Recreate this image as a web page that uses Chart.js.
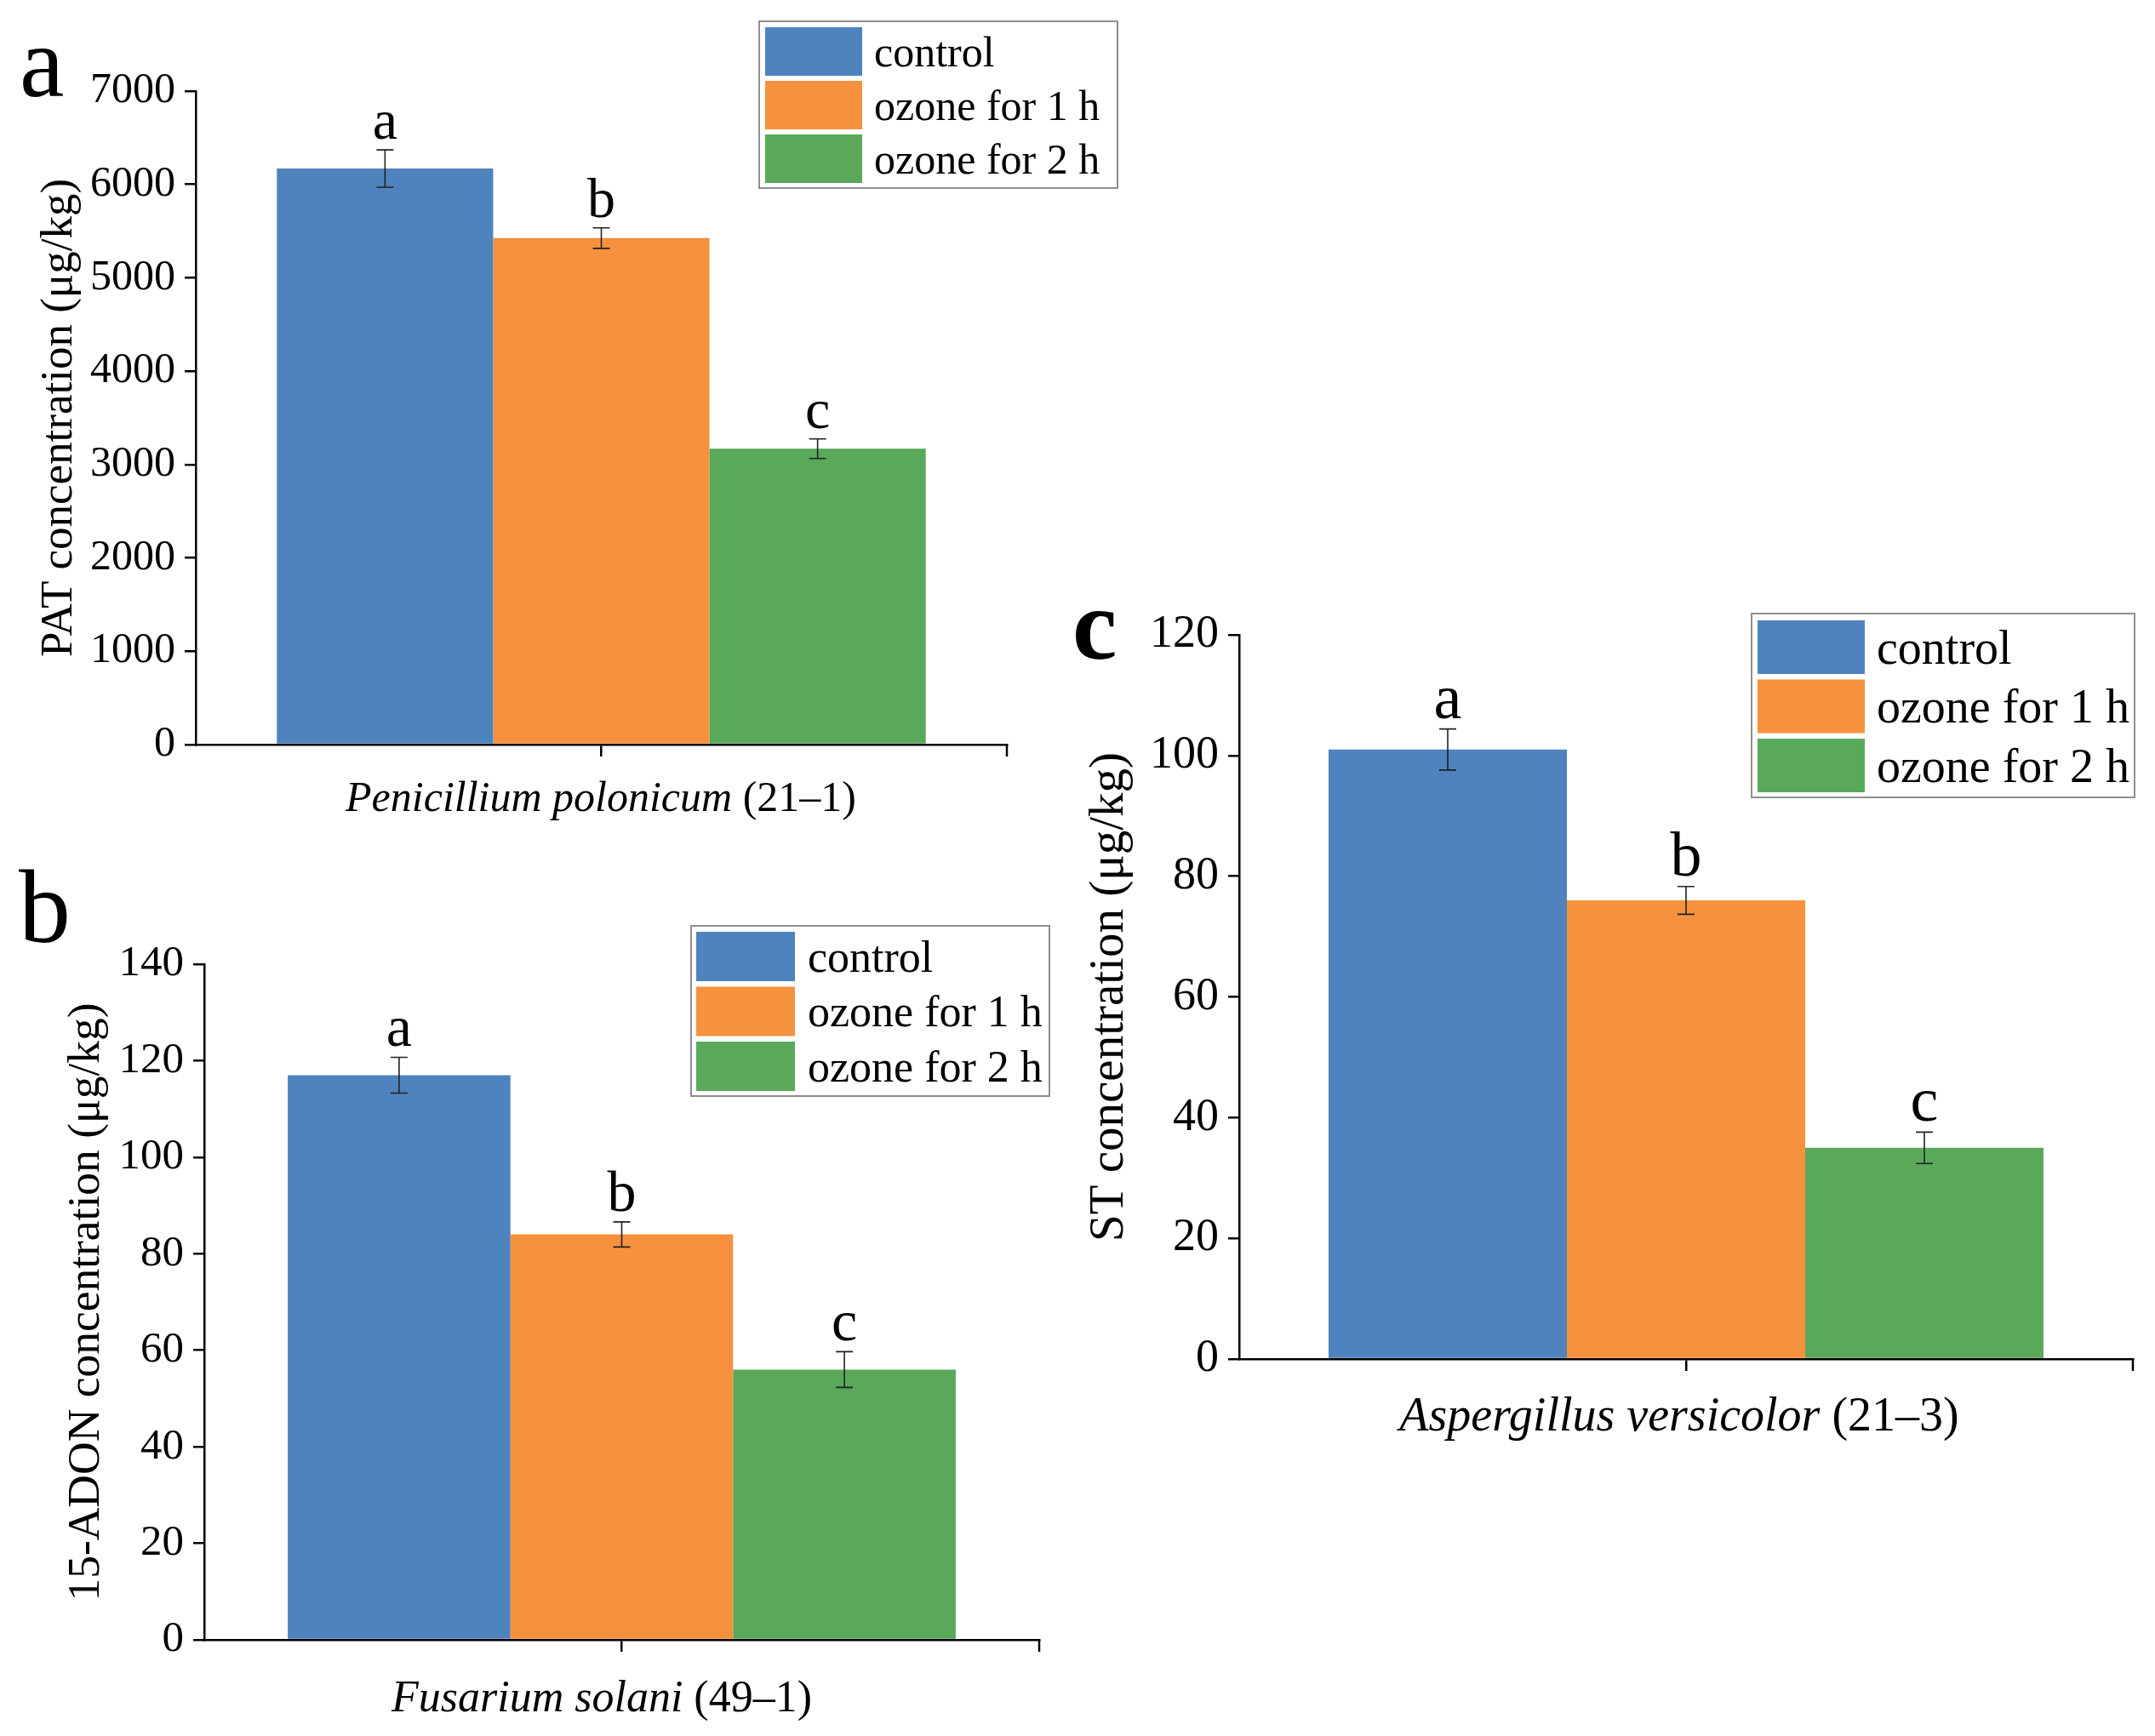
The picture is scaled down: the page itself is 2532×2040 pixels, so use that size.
<!DOCTYPE html>
<html>
<head>
<meta charset="utf-8">
<script src="https://cdn.jsdelivr.net/npm/chart.js@4.4.1/dist/chart.umd.min.js"></script>
<style>
  html, body { margin: 0; padding: 0; background: #fff; }
  body { width: 2532px; height: 2040px; position: relative; overflow: hidden; }
  canvas { position: absolute; }
</style>
</head>
<body>
<canvas id="chartA" width="1330" height="1000" style="left:0px;top:0px"></canvas>
<canvas id="chartB" width="1320" height="1040" style="left:0px;top:1000px"></canvas>
<canvas id="chartC" width="1292" height="1060" style="left:1240px;top:680px"></canvas>
<script>
// treatments and colours
const treatments = ['control', 'ozone for 1 h', 'ozone for 2 h'];
const barColors = ['#4f83be', '#f6913d', '#5aa85a'];
const sigLetters = ['a', 'b', 'c'];

// a: PAT, Penicillium polonicum
const patMean = [6170, 5425, 3170];
const patErr = [200, 110, 105];
// b: 15-ADON, Fusarium solani
const adonMean = [117, 84, 56];
const adonErr = [3.7, 2.6, 3.7];
// c: ST, Aspergillus versicolor
const stMean = [101, 76, 35];
const stErr = [3.4, 2.3, 2.6];

const SERIF = '"Liberation Serif", "Times New Roman", serif';

function decoPlugin(p) {
  return {
    id: 'deco' + p.label,
    afterDatasetsDraw(chart) {
      const ctx = chart.ctx, ys = chart.scales.y;
      ctx.save();
      chart.data.datasets.forEach((ds, i) => {
        const bar = chart.getDatasetMeta(i).data[0];
        const x = bar.x, v = ds.data[0], e = p.errs[i];
        const yt = ys.getPixelForValue(v + e), yb = ys.getPixelForValue(v - e);
        ctx.strokeStyle = '#222';
        ctx.lineWidth = 1.6;
        ctx.beginPath();
        ctx.moveTo(x, yt); ctx.lineTo(x, yb);
        ctx.moveTo(x - 10, yt); ctx.lineTo(x + 10, yt);
        ctx.moveTo(x - 10, yb); ctx.lineTo(x + 10, yb);
        ctx.stroke();
        ctx.fillStyle = '#000';
        ctx.font = p.letterSize + 'px ' + SERIF;
        ctx.textAlign = 'center';
        ctx.textBaseline = 'alphabetic';
        ctx.fillText(sigLetters[i], x, yt - 13);
      });
      ctx.restore();
    },
    afterDraw(chart) {
      const ctx = chart.ctx, a = chart.chartArea;
      ctx.save();
      // end tick on x axis
      ctx.strokeStyle = '#000';
      ctx.lineWidth = 2.5;
      ctx.beginPath();
      ctx.moveTo(a.right, a.bottom);
      ctx.lineTo(a.right, a.bottom + 14);
      ctx.stroke();

      ctx.fillStyle = '#000';
      // y title
      ctx.save();
      ctx.translate(p.yTitleX, (a.top + a.bottom) / 2);
      ctx.rotate(-Math.PI / 2);
      ctx.font = p.yTitleSize + 'px ' + SERIF;
      ctx.textAlign = 'center';
      ctx.textBaseline = 'middle';
      ctx.fillText(p.yTitle, 0, 0);
      ctx.restore();

      // x title: italic species + roman strain
      const fi = 'italic ' + p.font + 'px ' + SERIF;
      const fr = p.font + 'px ' + SERIF;
      ctx.font = fi; const wi = ctx.measureText(p.species).width;
      ctx.font = fr; const wr = ctx.measureText(p.strain).width;
      const x0 = p.xTitleX - (wi + wr) / 2;
      ctx.textAlign = 'left';
      ctx.textBaseline = 'alphabetic';
      ctx.font = fi; ctx.fillText(p.species, x0, p.xTitleY);
      ctx.font = fr; ctx.fillText(p.strain, x0 + wi, p.xTitleY);

      // legend
      const L = p.legend;
      ctx.strokeStyle = '#8f8f8f';
      ctx.lineWidth = 2;
      ctx.strokeRect(L.x, L.y, L.w, L.h);
      treatments.forEach((t, i) => {
        const top = L.top + i * L.pitch;
        ctx.fillStyle = barColors[i];
        ctx.fillRect(L.sx, top, L.sw, L.sh);
        ctx.fillStyle = '#000';
        ctx.font = p.legendSize + 'px ' + SERIF;
        ctx.fillText(t, L.tx, top + L.sh / 2 + p.legendSize * 0.34);
      });

      // panel letter
      ctx.font = p.labelWeight + ' ' + p.labelSize + 'px ' + SERIF;
      ctx.fillText(p.label, p.labelX, p.labelY);
      ctx.restore();
    }
  };
}

function makePanel(id, p) {
  return new Chart(document.getElementById(id), {
    type: 'bar',
    data: {
      labels: [p.species + p.strain],
      datasets: treatments.map((t, i) => ({
        label: t,
        data: [p.means[i]],
        backgroundColor: barColors[i],
        borderWidth: 0,
        categoryPercentage: 0.8,
        barPercentage: 1.0
      }))
    },
    options: {
      responsive: false,
      animation: false,
      devicePixelRatio: 1,
      layout: { padding: p.pad },
      plugins: { legend: { display: false }, tooltip: { enabled: false } },
      scales: {
        x: {
          ticks: { display: false },
          grid: { drawOnChartArea: false, offset: false, color: '#000', lineWidth: 2.5, tickLength: 14 },
          border: { color: '#000', width: 2.5 },
          afterFit(s) { s.height = p.xHeight; }
        },
        y: {
          min: p.yMin,
          max: p.yMax,
          ticks: {
            stepSize: p.yStep,
            color: '#000',
            padding: 11,
            font: { family: SERIF, size: p.tickSize },
            callback: v => String(v)
          },
          grid: { drawOnChartArea: false, color: '#000', lineWidth: 2.5, tickLength: 13 },
          border: { color: '#000', width: 2.5 },
          afterFit(s) { s.width = p.yWidth; }
        }
      }
    },
    plugins: [decoPlugin(p)]
  });
}

makePanel('chartA', {
  label: 'a', labelWeight: 'normal', labelX: 23, labelY: 113, labelSize: 118,
  species: 'Penicillium polonicum', strain: ' (21\u20131)',
  yTitle: 'PAT concentration (\u03bcg/kg)',
  means: patMean, errs: patErr,
  yMin: 0, yMax: 7000, yStep: 1000,
  font: 50, tickSize: 50, legendSize: 50, yTitleSize: 53, letterSize: 66,
  pad: { left: 0, top: 107, right: 147, bottom: 0 },
  yWidth: 230, xHeight: 125,
  yTitleX: 70, xTitleX: 706, xTitleY: 953,
  legend: { x: 892, y: 25, w: 421, h: 196, sx: 899, sw: 114, sh: 57, top: 32, pitch: 63, tx: 1027 }
});

makePanel('chartB', {
  label: 'b', labelWeight: 'normal', labelX: 22, labelY: 107, labelSize: 122,
  species: 'Fusarium solani', strain: ' (49\u20131)',
  yTitle: '15-ADON concentration (\u03bcg/kg)',
  means: adonMean, errs: adonErr,
  yMin: 0, yMax: 140, yStep: 20,
  font: 52, tickSize: 51, legendSize: 52, yTitleSize: 53.5, letterSize: 68,
  pad: { left: 0, top: 133, right: 99, bottom: 0 },
  yWidth: 240, xHeight: 113,
  yTitleX: 102, xTitleX: 707, xTitleY: 1011,
  legend: { x: 812, y: 88, w: 421, h: 200, sx: 818, sw: 116, sh: 58, top: 95, pitch: 64.5, tx: 949 }
});

makePanel('chartC', {
  label: 'c', labelWeight: 'bold', labelX: 20, labelY: 94, labelSize: 118,
  species: 'Aspergillus versicolor', strain: ' (21\u20133)',
  yTitle: 'ST concentration (\u03bcg/kg)',
  means: stMean, errs: stErr,
  yMin: 0, yMax: 120, yStep: 20,
  font: 56, tickSize: 54, legendSize: 56, yTitleSize: 57, letterSize: 74,
  pad: { left: 0, top: 66, right: 26, bottom: 0 },
  yWidth: 216, xHeight: 143,
  yTitleX: 64, xTitleX: 733, xTitleY: 1001,
  legend: { x: 818, y: 41, w: 450, h: 216, sx: 825, sw: 126, sh: 63, top: 49, pitch: 69.5, tx: 965 }
});
</script>
</body>
</html>
